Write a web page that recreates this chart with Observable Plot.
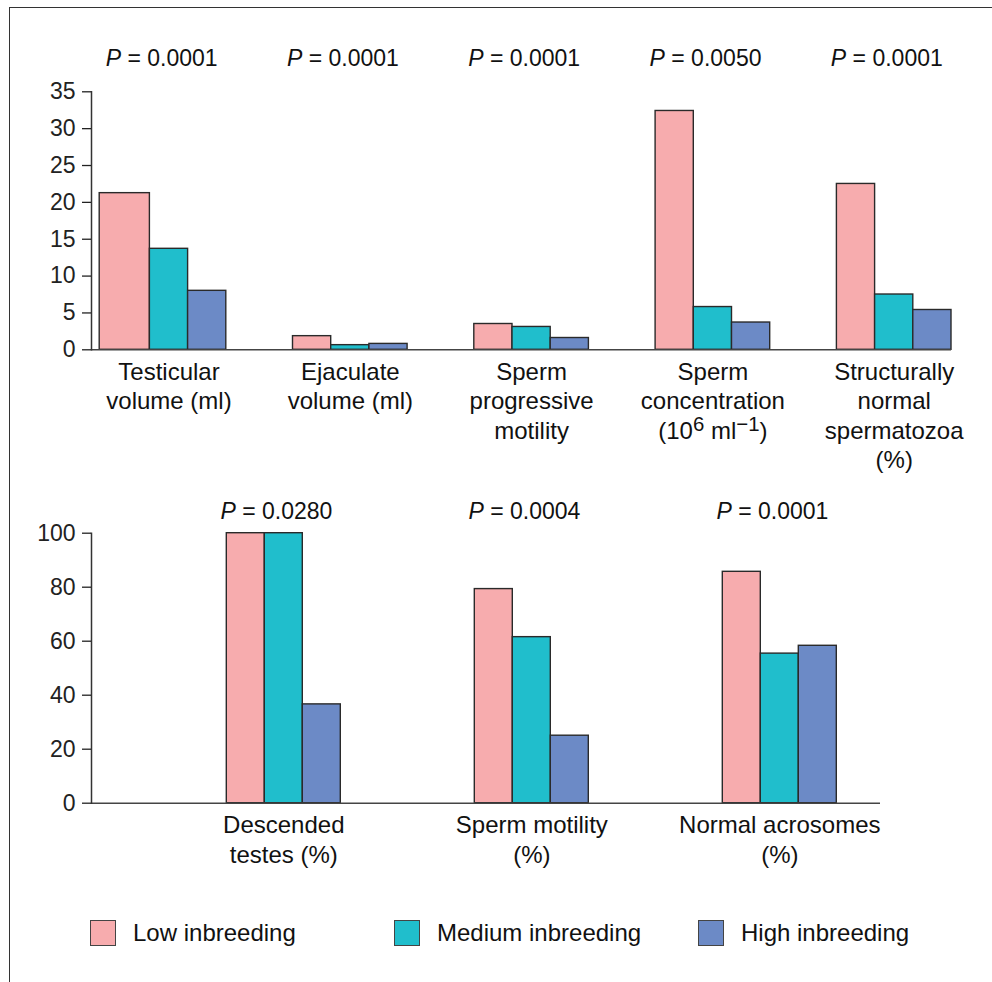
<!DOCTYPE html>
<html><head><meta charset="utf-8">
<script src="https://cdn.jsdelivr.net/npm/d3@7"></script>
<script src="https://cdn.jsdelivr.net/npm/@observablehq/plot@0.6"></script>
<style>
body{margin:0;background:#fff;font-family:"Liberation Sans",Arial,sans-serif;}
#page{position:relative;width:992px;height:982px;overflow:hidden;background:#fff;}
#border{position:absolute;left:9px;top:7px;width:1000px;height:1000px;border-top:1.5px solid #333;border-left:1.5px solid #333;}
.chart{position:absolute;left:0;}
#legend{position:absolute;left:90px;top:919px;display:flex;}
.item{width:304px;display:flex;align-items:center;font-size:24px;color:#111;height:27px;}
.sw{width:24px;height:24px;border:1.5px solid #444;margin-right:17px;flex:none;}
</style></head><body>
<div id="page"><div id="border"></div><div id="top" class="chart" style="top:0"></div><div id="bottom" class="chart" style="top:480px"></div><div id="legend"></div></div>
<script>
const series = ["Low inbreeding", "Medium inbreeding", "High inbreeding"];
const colors = ["#F7ACAE", "#20BECC", "#6C8AC6"];

const topCategories = ["Testicular\nvolume (ml)", "Ejaculate\nvolume (ml)", "Sperm\nprogressive\nmotility", "Sperm\nconcentration\n(10\u2076 ml\u207B\u00B9)", "Structurally\nnormal\nspermatozoa\n(%)"];
const topP = ["0.0001", "0.0001", "0.0001", "0.0050", "0.0001"];
const topLow = [21.25, 1.85, 3.5, 32.4, 22.5];
const topMedium = [13.7, 0.63, 3.1, 5.8, 7.5];
const topHigh = [8.0, 0.8, 1.6, 3.7, 5.4];
const topTicks = [0, 5, 10, 15, 20, 25, 30, 35];

const bottomCategories = ["Descended\ntestes (%)", "Sperm motility\n(%)", "Normal acrosomes\n(%)"];
const bottomP = ["0.0280", "0.0004", "0.0001"];
const bottomLow = [100, 79.3, 85.7];
const bottomMedium = [100, 61.5, 55.4];
const bottomHigh = [36.6, 25.0, 58.3];
const bottomTicks = [0, 20, 40, 60, 80, 100];

const FONT = "'Liberation Sans', Arial, Helvetica, sans-serif";

function makeChart({cats, pvals, low, med, high, ticks, yMax, height, marginTop, marginBottom, marginRight, xRange, step, barW, pDy, firstWide = 0}) {
  const rows = cats.flatMap((c, i) => [
    {cat: c, series: series[0], value: low[i], first: i === 0},
    {cat: c, series: series[1], value: med[i], first: i === 0},
    {cat: c, series: series[2], value: high[i], first: i === 0}
  ]);
  const p = 1 - barW / step;
  const pRows = cats.map((c, i) => ({cat: c, p: pvals[i]}));
  const barOpts = {x: "cat", y: "value", fill: "series", stroke: "#2a2a2a", strokeWidth: 1.4};
  return Plot.plot({
    width: 992,
    height,
    marginLeft: 91,
    marginRight,
    marginTop,
    marginBottom,
    style: {fontFamily: FONT, background: "transparent", overflow: "visible"},
    x: {type: "band", domain: cats, range: xRange, paddingInner: p, paddingOuter: p / 2, round: false, axis: null},
    y: {domain: [0, yMax], axis: null},
    color: {domain: series, range: colors},
    marks: [
      Plot.barY(rows.filter(d => d.series === series[0] && d.first), {...barOpts, dx: -barW, insetLeft: -firstWide}),
      Plot.barY(rows.filter(d => d.series === series[0] && !d.first), {...barOpts, dx: -barW}),
      Plot.barY(rows.filter(d => d.series === series[1]), {...barOpts}),
      Plot.barY(rows.filter(d => d.series === series[2]), {...barOpts, dx: barW}),
      Plot.ruleY([0], {stroke: "#444", strokeWidth: 1.6}),
      Plot.frame({anchor: "left", stroke: "#333", strokeWidth: 1.5}),
      Plot.axisY({ticks, tickSize: 9, tickPadding: 7, fontSize: 23, color: "#222", label: null, strokeWidth: 1.3}),
      Plot.text(cats, {x: d => d, text: d => d, frameAnchor: "bottom", lineAnchor: "top", dy: 9, fontSize: 24, lineHeight: 1.23, fill: "#111"}),
      Plot.text(pRows, {x: "cat", text: () => "P", frameAnchor: "top", dy: pDy, dx: -48, textAnchor: "end", fontStyle: "italic", fontSize: 23, fill: "#111"}),
      Plot.text(pRows, {x: "cat", text: d => "\u00a0=\u00a0" + d.p, frameAnchor: "top", dy: pDy, dx: -48, textAnchor: "start", fontSize: 23, fill: "#111"})
    ]
  });
}

// render superscript characters as raised tspans
function raiseSuperscripts(svg) {
  const map = {"\u2076": "6", "\u207B": "\u2212", "\u00B9": "1"};
  const ns = "http://www.w3.org/2000/svg";
  svg.querySelectorAll("tspan, text").forEach(el => {
    if (el.children.length) return;
    const t = el.textContent;
    if (!/[\u2076\u207B\u00B9]/.test(t)) return;
    el.textContent = "";
    const parts = t.match(/[\u2076\u207B\u00B9]+|[^\u2076\u207B\u00B9]+/g);
    parts.forEach(part => {
      if (/^[\u2076\u207B\u00B9]+$/.test(part)) {
        const s = document.createElementNS(ns, "tspan");
        s.setAttribute("baseline-shift", "38%");
        s.setAttribute("font-size", "0.85em");
        s.textContent = [...part].map(c => map[c]).join("");
        el.append(s);
      } else {
        el.append(document.createTextNode(part));
      }
    });
  });
}

const topSvg = makeChart({
  cats: topCategories, pvals: topP, low: topLow, med: topMedium, high: topHigh, ticks: topTicks, yMax: 35,
  height: 480, marginTop: 91.3, marginBottom: 130.7, marginRight: 41,
  xRange: [77.85, 984.35], step: 181.3, barW: 38.2, pDy: -42, firstWide: 12
});
raiseSuperscripts(topSvg);
document.getElementById("top").append(topSvg);

document.getElementById("bottom").append(makeChart({
  cats: bottomCategories, pvals: bottomP, low: bottomLow, med: bottomMedium, high: bottomHigh, ticks: bottomTicks, yMax: 100,
  height: 400, marginTop: 52.7, marginBottom: 77.3, marginRight: 112,
  xRange: [159.3, 903.3], step: 248, barW: 38, pDy: -31
}));

const legend = document.getElementById("legend");
series.forEach((s, i) => {
  const item = document.createElement("div");
  item.className = "item";
  const sw = document.createElement("div");
  sw.className = "sw";
  sw.style.background = colors[i];
  const label = document.createElement("span");
  label.textContent = s;
  item.append(sw, label);
  legend.append(item);
});
</script>
</body></html>
